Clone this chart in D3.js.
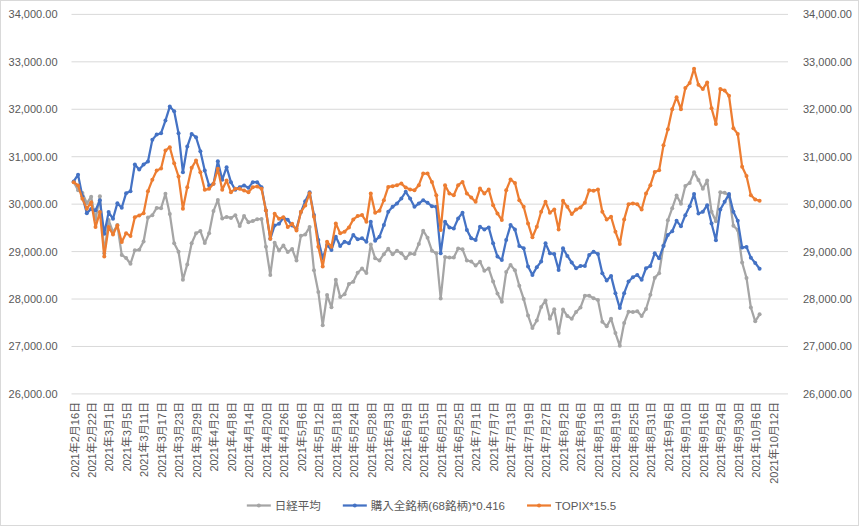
<!DOCTYPE html>
<html><head><meta charset="utf-8">
<script src="https://cdn.jsdelivr.net/npm/d3@7"></script>
<style>
html,body{margin:0;padding:0;background:#fff;}
text{font-family:"Liberation Sans","Noto Sans CJK JP",sans-serif;}
</style></head>
<body>
<svg id="c" width="859" height="526"></svg>
<script>
const dates = ["2/16","2/17","2/18","2/19","2/22","2/24","2/25","2/26",
"3/1","3/2","3/3","3/4","3/5","3/8","3/9","3/10","3/11","3/12","3/15","3/16","3/17","3/18","3/19","3/22","3/23","3/24","3/25","3/26","3/29","3/30","3/31",
"4/1","4/2","4/5","4/6","4/7","4/8","4/9","4/12","4/13","4/14","4/15","4/16","4/19","4/20","4/21","4/22","4/23","4/26","4/27","4/28","4/30",
"5/6","5/7","5/10","5/11","5/12","5/13","5/14","5/17","5/18","5/19","5/20","5/21","5/24","5/25","5/26","5/27","5/28","5/31",
"6/1","6/2","6/3","6/4","6/7","6/8","6/9","6/10","6/11","6/14","6/15","6/16","6/17","6/18","6/21","6/22","6/23","6/24","6/25","6/28","6/29","6/30",
"7/1","7/2","7/5","7/6","7/7","7/8","7/9","7/12","7/13","7/14","7/15","7/16","7/19","7/20","7/21","7/26","7/27","7/28","7/29","7/30",
"8/2","8/3","8/4","8/5","8/6","8/10","8/11","8/12","8/13","8/16","8/17","8/18","8/19","8/20","8/23","8/24","8/25","8/26","8/27","8/30","8/31",
"9/1","9/2","9/3","9/6","9/7","9/8","9/9","9/10","9/13","9/14","9/15","9/16","9/17","9/21","9/22","9/24","9/27","9/28","9/29","9/30",
"10/1","10/4","10/5","10/6","10/7","10/8","10/11","10/12","10/13","10/14","10/15"];

const nikkei = [30467.75,30292.19,30236.09,30017.92,30156.03,29671.70,30168.27,28966.01,
29663.50,29408.17,29559.10,28930.11,28864.32,28743.25,29027.94,29036.56,29211.64,29717.83,29766.97,29921.09,29914.33,30216.75,29792.05,29174.15,28995.92,28405.52,28729.88,29176.70,29384.52,29432.70,29178.80,
29388.87,29854.00,30089.25,29696.63,29730.79,29708.98,29768.06,29538.73,29751.61,29620.99,29642.69,29683.37,29685.37,29100.38,28508.55,29188.17,29020.63,29126.23,28991.89,29053.97,28812.63,
29331.37,29357.82,29518.34,28608.59,28147.51,27448.01,28084.47,27824.83,28406.84,28044.45,28098.25,28317.83,28364.61,28553.98,28642.19,28549.01,29149.41,28860.08,
28814.34,28946.14,29058.11,28941.52,29019.24,28963.56,28860.80,28958.56,28948.73,29161.80,29441.30,29291.01,29018.33,28964.08,28010.93,28884.13,28874.89,28875.23,29066.18,29048.02,28812.61,28791.53,
28707.04,28783.28,28598.19,28643.21,28366.95,28118.03,27940.42,28569.02,28718.24,28608.49,28279.09,28003.08,27652.74,27388.16,27548.00,27833.29,27970.22,27581.66,27782.42,27283.59,
27781.02,27641.83,27584.08,27728.12,27820.04,28070.51,28069.95,28015.02,27977.15,27523.19,27424.47,27585.91,27281.17,27013.25,27494.24,27732.10,27724.80,27742.29,27641.14,27789.29,28089.54,
28451.02,28543.51,29128.11,29659.89,29916.14,30181.21,30008.19,30381.84,30447.37,30670.10,30511.71,30323.34,30500.05,29839.71,29639.40,30248.81,30240.06,30183.96,29544.29,29452.66,
28771.07,28444.89,27822.12,27528.87,27678.21];

const holdings = [30480,30620,30160,29810,29900,29870,30080,29375,
29832,29691,30021,29923,30232,30274,30835,30730,30835,30899,31355,31467,31495,31762,32057,31958,31495,30674,31214,31481,31411,31116,30709,
30393,30428,30906,30512,30779,30463,30302,30358,30393,30344,30463,30463,30358,29867,29270,29551,29586,29712,29670,29551,29480,
29832,30063,30253,29769,29244,28859,29139,29034,29314,29118,29209,29174,29349,29258,29279,29209,29629,29230,
29314,29559,29839,29944,30014,30119,30259,30119,29944,30014,30084,30028,29958,29944,28964,29629,29510,29489,29699,29818,29454,29279,
29244,29524,29468,29510,29174,28894,28824,29244,29559,29468,29118,29069,28684,28509,28670,28789,29174,28964,28950,28614,
29069,28908,28768,28649,28698,28698,28929,28999,28950,28544,28390,28488,28124,27809,28124,28369,28460,28509,28404,28649,28698,
28964,28859,29118,29350,29430,29648,29535,29767,29958,30212,29803,29838,29979,29591,29239,29887,30049,30212,29838,29648,
29084,29098,28872,28759,28639];

const topix = [30463,30393,30112,29902,30042,29516,29832,28898,
29516,29361,29551,29200,29389,29326,29726,29761,29810,30274,30512,30709,30751,31130,31200,30863,30583,29902,30358,30765,30920,30674,30302,
30323,30428,30744,30302,30498,30253,30323,30323,30288,30253,30358,30372,30323,29867,29270,29796,29691,29726,29516,29586,29445,
29832,29972,30232,29734,29104,28684,29209,29104,29594,29384,29419,29510,29678,29748,29769,29629,30224,29818,
29860,30084,30364,30378,30399,30434,30350,30308,30294,30399,30644,30644,30469,30189,29454,30399,30224,30189,30399,30469,30224,30140,
30049,30329,30224,30308,29979,29804,29664,30294,30518,30448,30084,29944,29594,29300,29524,29839,30049,29820,29888,29468,
30070,29944,29790,29888,29930,30028,30294,30280,30308,29839,29678,29734,29419,29160,29678,30000,30014,30000,29888,30224,30399,
30679,30714,31239,31579,32002,32256,32002,32446,32552,32855,32517,32425,32566,32023,31692,32425,32397,32284,31600,31481,
30790,30592,30190,30099,30070];

const yTicks = [26000,27000,28000,29000,30000,31000,32000,33000,34000];
const seriesNames = ["日経平均","購入全銘柄(68銘柄)*0.416","TOPIX*15.5"];
const seriesColors = ["#A5A5A5","#4472C4","#ED7D31"];
const seriesData = [nikkei, holdings, topix];

const svg = d3.select("#c");
const L = 71.5, R = 788, T = 14.4, B = 393.9;
const textColor = "#595959";

svg.append("rect").attr("x",0.5).attr("y",0.5).attr("width",858).attr("height",525)
  .attr("fill","#fff").attr("stroke","#d9d9d9");

const x = d3.scaleBand().domain(d3.range(dates.length)).range([L, R]);
const cx = i => x(i) + x.bandwidth()/2;
const y = d3.scaleLinear().domain([26000, 34000]).range([B, T]);
const fmt = d3.format(",.2f");

// gridlines
svg.append("g").selectAll("line").data(yTicks.slice(1)).join("line")
  .attr("x1", L).attr("x2", R).attr("y1", d=>y(d)).attr("y2", d=>y(d))
  .attr("stroke","#d9d9d9").attr("stroke-width",1);

// left axis
const la = svg.append("g").attr("transform",`translate(${L},0)`)
  .call(d3.axisLeft(y).tickValues(yTicks).tickFormat(fmt).tickSize(0).tickPadding(14));
la.select(".domain").remove();
la.selectAll("text").attr("fill",textColor).style("font-size","11px").style("font-family",'"Liberation Sans",sans-serif');

// right axis
const ra = svg.append("g").attr("transform",`translate(${R},0)`)
  .call(d3.axisRight(y).tickValues(yTicks).tickFormat(fmt).tickSize(0).tickPadding(15));
ra.select(".domain").remove();
ra.selectAll("text").attr("fill",textColor).style("font-size","11px").style("font-family",'"Liberation Sans",sans-serif');

// x axis line
svg.append("line").attr("x1",L).attr("x2",R).attr("y1",y(26000)).attr("y2",y(26000))
  .attr("stroke","#d9d9d9").attr("stroke-width",1);

// x labels
const lblIdx = d3.range(0, 161, 4);
svg.append("g").selectAll("text").data(lblIdx).join("text")
  .attr("transform", i => `translate(${cx(i)+1},${B+8}) rotate(-90)`)
  .attr("text-anchor","end").attr("dy","0.35em")
  .attr("fill",textColor).style("font-size","11px")
  .text(i => { const [m,d] = dates[i].split("/"); return `2021年${m}月${d}日`; });

// lines
const line = d3.line().x((d,i)=>cx(i)).y(d=>y(d));
seriesData.forEach((data, k) => {
  const g = svg.append("g");
  g.append("path").datum(data).attr("d", line).attr("fill","none")
    .attr("stroke", seriesColors[k]).attr("stroke-width",2.25).attr("stroke-linejoin","round");
  g.selectAll("circle").data(data).join("circle")
    .attr("cx",(d,i)=>cx(i)).attr("cy",d=>y(d)).attr("r",2)
    .attr("fill",seriesColors[k]);
});

// legend
const lg = svg.append("g");
let lx = 0;
seriesNames.forEach((n,k) => {
  const it = lg.append("g").attr("transform",`translate(${lx},0)`);
  it.append("line").attr("x1",0).attr("x2",24).attr("y1",0).attr("y2",0)
    .attr("stroke",seriesColors[k]).attr("stroke-width",2.25);
  it.append("circle").attr("cx",12).attr("cy",0).attr("r",2).attr("fill",seriesColors[k]);
  const t = it.append("text").attr("x",28).attr("dy","0.35em").attr("fill",textColor)
    .style("font-size","11.5px").text(n);
  lx += 28 + t.node().getComputedTextLength() + 22;
});
const lw = lx - 22;
lg.attr("transform",`translate(${431.5 - lw/2},${505.5})`);
</script>
</body></html>
